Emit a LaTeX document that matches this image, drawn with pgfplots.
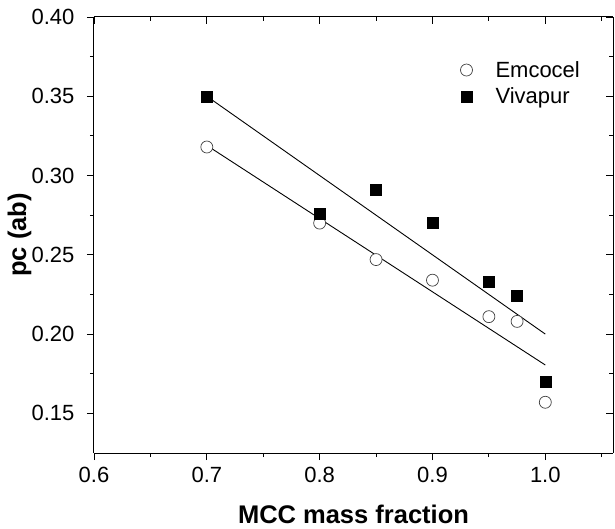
\documentclass[border=0pt]{standalone}
\usepackage{pgfplots}
\pgfplotsset{compat=1.18}
\usepackage{fontspec}
\setmainfont{Liberation Sans}
\begin{document}
\begin{tikzpicture}
\path[use as bounding box] (-94pt,-75pt) rectangle (521pt,453pt);
\pgfplotsset{
  common/.style={
    at={(0pt,0pt)}, anchor=south west,
    width=519pt, height=436pt, scale only axis,
    xmin=0.6, xmax=1.06, ymin=0.125, ymax=0.40,
    xtick={0.6,0.7,0.8,0.9,1.0},
    ytick={0.15,0.20,0.25,0.30,0.35,0.40},
    minor xtick={0.65,0.75,0.85,0.95,1.05},
    minor ytick={0.175,0.225,0.275,0.325,0.375},
    major tick length=7pt, minor tick length=4pt,
    every tick/.style={black, line width=0.9pt},
    axis line style={black, line width=1pt, -},
  }
}
\begin{axis}[common,
  axis x line*=bottom, axis y line*=left, tick align=outside,
  /pgf/number format/assume math mode=true,
  xticklabel style={yshift=-4pt, /pgf/number format/fixed, /pgf/number format/fixed zerofill, /pgf/number format/precision=1},
  yticklabel style={xshift=-9pt, /pgf/number format/fixed, /pgf/number format/fixed zerofill, /pgf/number format/precision=2},
  tick label style={font=\fontsize{22}{26}\selectfont},
  xlabel={\bfseries MCC mass fraction},
  ylabel={\bfseries pc (ab)},
  label style={font=\fontsize{25.5}{30}\selectfont},
  xlabel style={at={(axis description cs:0.5,-0.1606)}, anchor=base},
  ylabel style={at={(axis description cs:-0.131,0.5)}, anchor=base},
  legend style={draw=none, fill=none, at={(0.70,0.908)}, anchor=north west,
    font=\fontsize{22}{26}\selectfont, row sep=5pt,
    /tikz/every odd column/.append style={column sep=21pt}},
  legend cell align=left,
]
\addplot[black, line width=0.9pt, forget plot] coordinates {(0.7,0.350) (1.0,0.200)};
\addplot[black, line width=0.9pt, forget plot] coordinates {(0.7,0.319) (1.0,0.1805)};
\addplot[only marks, mark=*, mark size=6pt, mark options={draw=black!75, fill=white, line width=0.7pt}]
  coordinates {(0.7,0.318) (0.8,0.270) (0.85,0.247) (0.9,0.234) (0.95,0.211) (0.975,0.208) (1.0,0.157)};
\addlegendentry{Emcocel}
\addplot[only marks, mark=square*, mark size=5.5pt, mark options={draw=black, fill=black}]
  coordinates {(0.7,0.350) (0.8,0.276) (0.85,0.291) (0.9,0.270) (0.95,0.233) (0.975,0.224) (1.0,0.170)};
\addlegendentry{Vivapur}
\end{axis}
\begin{axis}[common,
  axis x line*=top, axis y line*=right, tick align=inside,
  xticklabels={}, yticklabels={},
]
\end{axis}
\end{tikzpicture}
\end{document}
